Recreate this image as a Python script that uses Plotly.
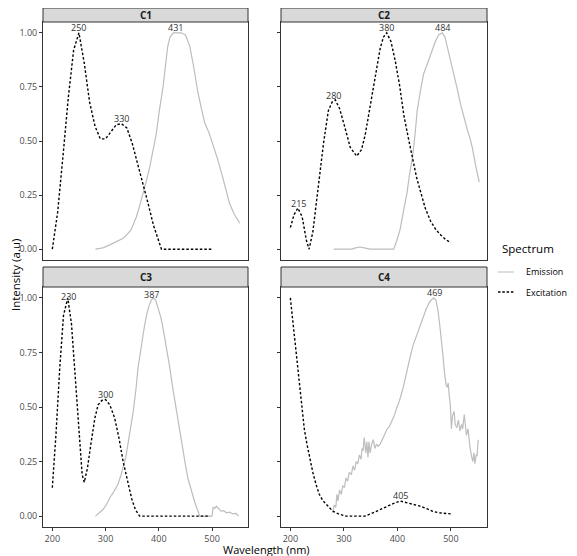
import numpy as np
import plotly.graph_objects as go
from plotly.subplots import make_subplots

panels = ["C1", "C2", "C3", "C4"]

# excitation spectra (wavelength nm, normalised intensity)
c1_ex_x = [200, 210, 220, 230, 240, 250, 260, 270, 280, 290, 300, 310, 320, 330, 340, 350, 360, 370, 380, 390, 400, 405, 420, 440, 460, 480, 500]
c1_ex_y = [0.0, 0.17, 0.43, 0.70, 0.92, 1.0, 0.86, 0.68, 0.57, 0.51, 0.51, 0.54, 0.575, 0.58, 0.56, 0.49, 0.40, 0.31, 0.21, 0.11, 0.03, 0.0, 0.0, 0.0, 0.0, 0.0, 0.0]

c2_ex_x = [200, 207, 214, 222, 230, 235, 242, 249, 256, 262, 271, 278, 284, 292, 300, 312, 324, 333, 340, 348, 356, 362, 368, 374, 380, 388, 396, 404, 412, 420, 428, 436, 444, 452, 462, 472, 481, 490, 500]
c2_ex_y = [0.10, 0.16, 0.19, 0.15, 0.04, 0.0, 0.08, 0.23, 0.38, 0.49, 0.64, 0.68, 0.69, 0.65, 0.58, 0.47, 0.43, 0.46, 0.53, 0.64, 0.76, 0.85, 0.93, 0.98, 1.0, 0.96, 0.87, 0.76, 0.62, 0.52, 0.42, 0.33, 0.26, 0.19, 0.13, 0.09, 0.066, 0.045, 0.03]

c3_ex_x = [200, 207, 214, 221, 229, 236, 243, 250, 256, 260, 266, 273, 280, 286, 293, 300, 308, 317, 325, 333, 341, 349, 356, 364, 380, 400, 420, 440, 460, 480, 496]
c3_ex_y = [0.13, 0.38, 0.68, 0.92, 1.0, 0.88, 0.64, 0.38, 0.19, 0.155, 0.22, 0.34, 0.45, 0.51, 0.53, 0.534, 0.51, 0.45, 0.36, 0.25, 0.16, 0.08, 0.03, 0.0, 0.0, 0.0, 0.0, 0.0, 0.0, 0.0, 0.0]

c4_ex_x = [200, 204, 208, 212, 217, 222, 226, 231, 236, 242, 248, 254, 261, 270, 279, 290, 304, 320, 339, 352, 367, 380, 392, 405, 418, 430, 442, 455, 466, 478, 490, 500]
c4_ex_y = [1.0, 0.91, 0.82, 0.72, 0.59, 0.48, 0.40, 0.33, 0.27, 0.20, 0.145, 0.10, 0.07, 0.045, 0.023, 0.01, 0.0, 0.0, 0.0, 0.012, 0.03, 0.045, 0.057, 0.069, 0.062, 0.055, 0.046, 0.034, 0.022, 0.015, 0.012, 0.01]

# emission spectra
c1_em_x = [281, 295, 308, 320, 333, 341, 348, 353, 358, 364, 370, 376, 383, 389, 395, 401, 408, 413, 417, 421, 427, 435, 442, 450, 458, 465, 473, 480, 486, 494, 502, 510, 518, 525, 533, 542, 552]
c1_em_y = [0.0, 0.006, 0.02, 0.035, 0.05, 0.07, 0.09, 0.12, 0.15, 0.20, 0.25, 0.31, 0.38, 0.45, 0.53, 0.64, 0.75, 0.86, 0.94, 0.98, 1.0, 1.0, 1.0, 0.99, 0.94, 0.85, 0.73, 0.65, 0.585, 0.54, 0.485, 0.42, 0.35, 0.28, 0.21, 0.16, 0.12]

c2_em_x = [281, 300, 315, 322, 330, 338, 349, 370, 393, 399, 405, 411, 418, 423, 428, 433, 437, 443, 449, 455, 459, 465, 471, 477, 484, 489, 493, 499, 506, 512, 518, 524, 531, 536, 540, 546, 553]
c2_em_y = [0.0, 0.0, 0.0, 0.006, 0.01, 0.006, 0.0, 0.0, 0.0, 0.04, 0.09, 0.17, 0.26, 0.35, 0.42, 0.53, 0.64, 0.73, 0.81, 0.85, 0.88, 0.92, 0.96, 0.99, 1.0, 0.98, 0.94, 0.88, 0.81, 0.74, 0.67, 0.61, 0.55, 0.51, 0.47, 0.39, 0.31]

c3_em_x = [281, 288, 295, 301, 308, 315, 323, 328, 333, 338, 342, 347, 352, 357, 361, 366, 370, 373, 377, 381, 386, 390, 394, 399, 404, 408, 414, 420, 426, 433, 440, 449, 455, 461, 468, 477, 490, 500, 502, 505, 508, 512, 517, 522, 527, 533, 539, 545, 550]
c3_em_y = [0.0, 0.015, 0.03, 0.05, 0.084, 0.11, 0.145, 0.18, 0.22, 0.27, 0.33, 0.40, 0.48, 0.58, 0.68, 0.76, 0.83, 0.87, 0.92, 0.96, 0.99, 1.0, 0.99, 0.95, 0.91, 0.86, 0.78, 0.69, 0.59, 0.48, 0.37, 0.25, 0.17, 0.115, 0.06, 0.0, 0.0, 0.0, 0.04, 0.035, 0.045, 0.035, 0.023, 0.025, 0.015, 0.018, 0.01, 0.012, 0.0]

c4_em_x = [279, 282, 285, 287, 289, 292, 295, 298, 301, 304, 307, 310, 314, 317, 320, 323, 326, 329, 332, 334, 336, 338, 341, 343, 345, 347, 349, 352, 355, 358, 361, 364, 368, 372, 376, 381, 385, 389, 394, 398, 404, 411, 417, 423, 429, 436, 442, 448, 454, 461, 465, 468, 472, 476, 479, 482, 485, 488, 491, 493, 495, 497, 499, 501, 503, 506, 508, 511, 514, 517, 520, 522, 525, 527, 529, 532, 534, 536, 539, 541, 543, 545, 547, 549, 551]
c4_em_y = [0.015, 0.05, 0.04, 0.10, 0.07, 0.12, 0.10, 0.14, 0.13, 0.175, 0.16, 0.20, 0.19, 0.23, 0.21, 0.25, 0.24, 0.28, 0.26, 0.31, 0.30, 0.36, 0.29, 0.34, 0.27, 0.34, 0.29, 0.33, 0.35, 0.31, 0.33, 0.32, 0.33, 0.35, 0.37, 0.40, 0.41, 0.43, 0.46, 0.49, 0.53, 0.59, 0.66, 0.72, 0.78, 0.83, 0.87, 0.91, 0.95, 0.985, 0.995, 1.0, 0.99, 0.94, 0.88, 0.82, 0.74, 0.66, 0.60, 0.59, 0.61, 0.55, 0.51, 0.40, 0.46, 0.48, 0.42, 0.405, 0.44, 0.39, 0.42, 0.40, 0.465, 0.42, 0.37, 0.40, 0.35, 0.31, 0.27, 0.25, 0.29, 0.24, 0.28, 0.275, 0.35]

ex_x = [c1_ex_x, c2_ex_x, c3_ex_x, c4_ex_x]
ex_y = [c1_ex_y, c2_ex_y, c3_ex_y, c4_ex_y]
em_x = [c1_em_x, c2_em_x, c3_em_x, c4_em_x]
em_y = [c1_em_y, c2_em_y, c3_em_y, c4_em_y]

# labelled peaks: (wavelength, which spectrum)
c1_peaks = [(250, "ex"), (330, "ex"), (431, "em")]
c2_peaks = [(215, "ex"), (280, "ex"), (380, "ex"), (484, "em")]
c3_peaks = [(230, "ex"), (300, "ex"), (387, "em")]
c4_peaks = [(405, "ex"), (469, "em")]
peaks = [c1_peaks, c2_peaks, c3_peaks, c4_peaks]

W, H = 577, 556
OFF = 8  # page body margin
FONT = "Open Sans"
EDGE = "#333333"
EM_COL = "#bdbdbd"


def px(x):
    return (x - OFF) / W


def py(y):
    return 1 - (y - OFF) / H


fig = make_subplots(rows=2, cols=2)

col_dom = [[px(43), px(248)], [px(281), px(487)]]
row_dom = [[py(260), py(22)], [py(527), py(287)]]
strip_top = [py(8), py(267)]

for i, name in enumerate(panels):
    r, c = i // 2 + 1, i % 2 + 1
    fig.add_trace(go.Scatter(x=em_x[i], y=em_y[i], mode="lines", name="Emission",
                             line=dict(color=EM_COL, width=1.2), showlegend=False),
                  row=r, col=c)
    fig.add_trace(go.Scatter(x=ex_x[i], y=ex_y[i], mode="lines", name="Excitation",
                             line=dict(color="black", width=1.4, dash="2.5px,2px"),
                             showlegend=False), row=r, col=c)

    xd = col_dom[c - 1]
    yd = row_dom[r - 1]
    fig.update_xaxes(domain=xd, range=[182.5, 567.5], tickvals=[200, 300, 400, 500],
                     showticklabels=(r == 2), ticks="outside" if r == 2 else "",
                     ticklen=3, tickcolor=EDGE, showgrid=False, zeroline=False,
                     showline=True, mirror=True, linecolor=EDGE, linewidth=1,
                     tickfont=dict(size=9, color="#4d4d4d"), row=r, col=c)
    fig.update_yaxes(domain=yd, range=[-0.05, 1.05], tickvals=[0, 0.25, 0.5, 0.75, 1.0],
                     tickformat=".2f", showticklabels=(c == 1), ticks="outside",
                     ticklen=3, tickcolor=EDGE, showgrid=False, zeroline=False,
                     showline=True, mirror=True, linecolor=EDGE, linewidth=1,
                     tickfont=dict(size=9, color="#4d4d4d"), row=r, col=c)

    # facet strip
    st = strip_top[r - 1]
    fig.add_shape(type="rect", xref="paper", yref="paper",
                  x0=xd[0], x1=xd[1], y0=yd[1], y1=st,
                  fillcolor="#d9d9d9", line=dict(color=EDGE, width=1))
    fig.add_annotation(xref="paper", yref="paper", x=(xd[0] + xd[1]) / 2,
                       y=(yd[1] + st) / 2, text="<b>%s</b>" % name, showarrow=False,
                       xanchor="center", yanchor="middle",
                       font=dict(family=FONT, size=10, color="#1a1a1a"))

    # peak labels
    xref = "x" if i == 0 else "x%d" % (i + 1)
    yref = "y" if i == 0 else "y%d" % (i + 1)
    for wl, kind in peaks[i]:
        if kind == "ex":
            pk = np.interp(wl, ex_x[i], ex_y[i])
        else:
            pk = np.interp(wl, em_x[i], em_y[i])
        fig.add_annotation(x=wl, y=pk, xref=xref, yref=yref, text=str(wl),
                           showarrow=False, xanchor="center", yanchor="bottom", yshift=-3,
                           font=dict(family=FONT, size=9, color="#333333"))

# axis titles
fig.add_annotation(xref="paper", yref="paper", x=px(266), y=py(549),
                   xanchor="center", yanchor="middle",
                   text="Wavelength (nm)", showarrow=False,
                   font=dict(family=FONT, size=11, color="black"))
fig.add_annotation(xref="paper", yref="paper", x=px(15), y=py(275),
                   xanchor="center", yanchor="middle",
                   text="Intensity (a.u)", showarrow=False, textangle=-90,
                   font=dict(family=FONT, size=11.5, color="black"))

# legend
fig.add_annotation(xref="paper", yref="paper", x=px(500), y=py(249),
                   xanchor="left", yanchor="middle", text="Spectrum", showarrow=False,
                   font=dict(family=FONT, size=11.5, color="black"))
legend_items = [("Emission", EM_COL, "solid", 1.0, 272),
                ("Excitation", "black", "2.5px,1.8px", 1.3, 292)]
for label, colr, dash, lw, ly in legend_items:
    fig.add_shape(type="line", xref="paper", yref="paper",
                  x0=px(498), x1=px(514), y0=py(ly), y1=py(ly),
                  line=dict(color=colr, width=lw, dash=dash))
    fig.add_annotation(xref="paper", yref="paper", x=px(524), y=py(ly),
                       xanchor="left", yanchor="middle", text=label, showarrow=False,
                       font=dict(family=FONT, size=9, color="black"))

fig.update_layout(
    width=W, height=H,
    margin=dict(l=0, r=0, t=0, b=0),
    plot_bgcolor="white", paper_bgcolor="white",
    font=dict(family=FONT),
    showlegend=False,
)

fig.write_html("out.html")
